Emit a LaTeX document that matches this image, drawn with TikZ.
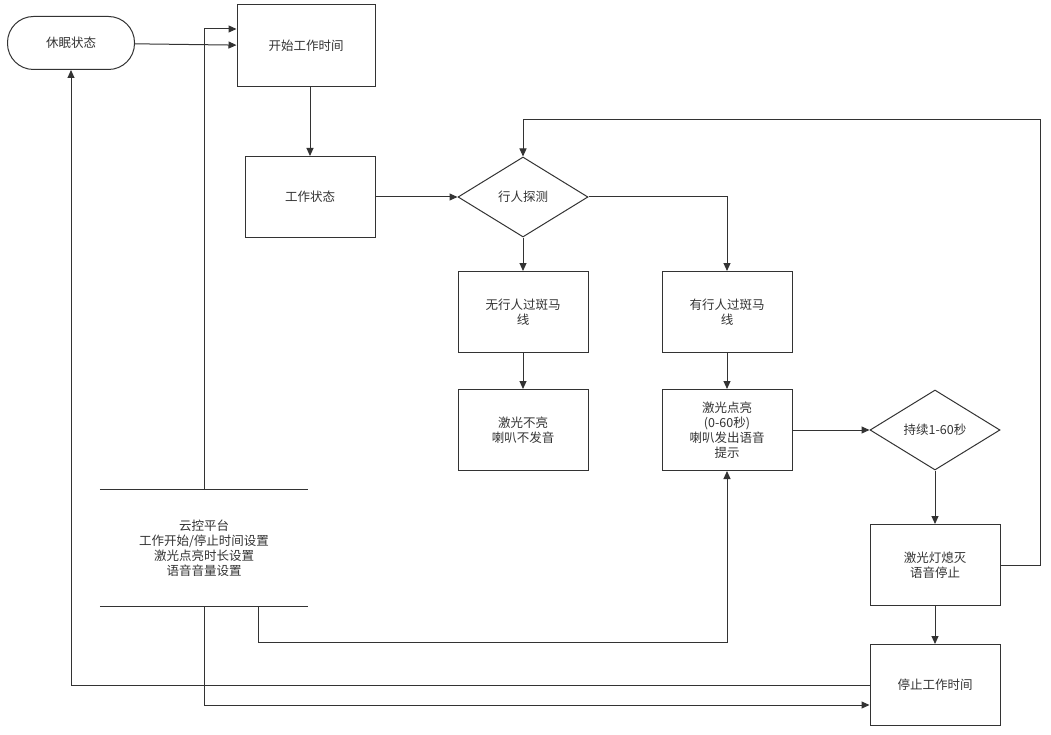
\documentclass[tikz,border=0pt]{standalone}
\usepackage{fontspec}
\setmainfont{Noto Sans CJK SC}
\usetikzlibrary{shapes.geometric,positioning,arrows.meta}
\definecolor{ink}{HTML}{333333}
\begin{document}
\begin{tikzpicture}[x=1pt,y=-1pt, on grid, font=\fontsize{12.5}{15}\selectfont,
  box/.style={draw=ink, line width=1pt, minimum width=130pt, minimum height=81pt, align=center, text=ink},
  dec/.style={diamond, draw=ink, line width=1pt, minimum width=130pt, minimum height=80pt, aspect=1.6, inner sep=0pt, text=ink},
  line/.style={draw=ink, line width=1pt, -{Triangle[length=8pt,width=7pt]}}]
\useasboundingbox (0,0) rectangle (1051,735);
\node [box, rounded corners=26pt, minimum width=127pt, minimum height=53pt] (sleep) at (71,43) {休眠状态};
\node [box, minimum width=138pt, minimum height=82pt] (start) at (306,46) {开始工作时间};
\node [box] (work) at (310,197) {工作状态};
\node [dec] (detect) at (523,197) {行人探测};
\node [box] (none) [below=115pt of detect] {无行人过斑马\\线};
\node [box] (some) [right=204pt of none] {有行人过斑马\\线};
\node [box] (off) [below=118pt of none] {激光不亮\\喇叭不发音};
\node [box] (on) [below=118pt of some] {激光点亮\\(0-60秒)\\喇叭发出语音\\提示};
\node [dec] (keep) [right=208pt of on] {持续1-60秒};
\node [box] (dark) [below=135pt of keep] {激光灯熄灭\\语音停止};
\node [box] (stop) [below=120pt of dark] {停止工作时间};
\node [minimum width=208pt, minimum height=116pt, align=center, text=ink] (cloud) at (204,548) {云控平台\\工作开始/停止时间设置\\激光点亮时长设置\\语音音量设置};
\draw [ink, line width=1pt] (cloud.north west) -- (cloud.north east)
  (cloud.south west) -- (cloud.south east);
% connectors
\path [line] (sleep) -- (start);
\path [line] (cloud.north) |- ([yshift=17pt]start.west);
\path [line] (start.south -| work.north) -- (work);
\path [line] (work) -- (detect);
\path [line] (detect) -- (none);
\path [line] (detect.east) -| (some.north);
\path [line] (none) -- (off);
\path [line] (some) -- (on);
\path [line] (on) -- (keep);
\path [line] (keep) -- (dark);
\path [line] (dark) -- (stop);
\coordinate (loop) at (1040,120);
\path [line] (dark.east) -| (loop) -| (detect.north);
\path [line] ([xshift=54pt]cloud.south) |- (727,642) -- (on.south);
\path [line] (cloud.south) |- ([yshift=-20pt]stop.west);
\path [line] (stop.west) -| (sleep.south);
\end{tikzpicture}
\end{document}
